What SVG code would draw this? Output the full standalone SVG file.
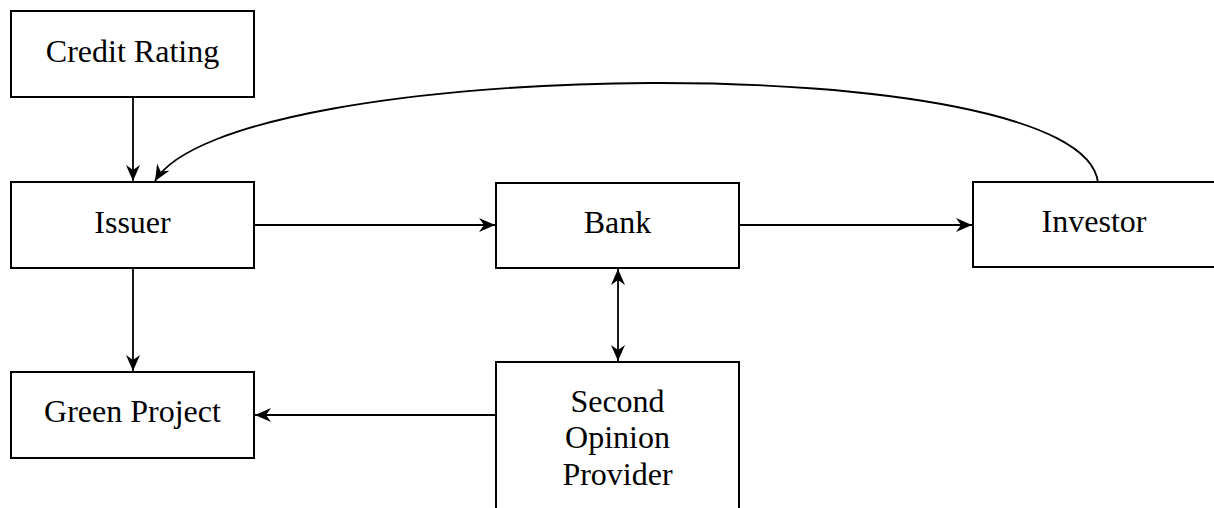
<svg xmlns="http://www.w3.org/2000/svg" width="1214" height="508" viewBox="0 0 1214 508">
<style>
.box{fill:#fff;stroke:#000;stroke-width:2}
.lbl{font-family:"Liberation Serif","Times New Roman",serif;font-size:32px;fill:#000;text-anchor:middle}
.con{fill:none;stroke:#000;stroke-width:1.8}
</style>
<defs>
<marker id="ah" markerWidth="18" markerHeight="14" refX="16" refY="7" orient="auto-start-reverse" markerUnits="userSpaceOnUse">
<path d="M0,0 L16,7 L0,14 L5,7 z" fill="#000"/>
</marker>
</defs>
<rect width="1214" height="508" fill="#fff"/>
<g id="connectors">
<line class="con" x1="133" y1="97" x2="133" y2="181" marker-end="url(#ah)"/>
<line class="con" x1="133" y1="268" x2="133" y2="371" marker-end="url(#ah)"/>
<line class="con" x1="254" y1="225" x2="495" y2="225" marker-end="url(#ah)"/>
<line class="con" x1="739" y1="225" x2="972" y2="225" marker-end="url(#ah)"/>
<line class="con" x1="618" y1="269" x2="618" y2="361" marker-start="url(#ah)" marker-end="url(#ah)"/>
<line class="con" x1="496" y1="415" x2="255" y2="415" marker-end="url(#ah)"/>
<path class="con" d="M1098,183 C1085,45 230,55 155,181" marker-end="url(#ah)"/>
</g>
<g id="credit-rating"><rect class="box" x="11" y="11" width="243" height="86"/><text class="lbl" x="132.5" y="62">Credit Rating</text></g>
<g id="issuer"><rect class="box" x="11" y="182" width="243" height="86"/><text class="lbl" x="132.5" y="233">Issuer</text></g>
<g id="bank"><rect class="box" x="496" y="183" width="243" height="85"/><text class="lbl" x="617.5" y="233">Bank</text></g>
<g id="investor"><rect class="box" x="973" y="182" width="243" height="85"/><text class="lbl" x="1094" y="232">Investor</text></g>
<g id="green-project"><rect class="box" x="11" y="372" width="243" height="86"/><text class="lbl" x="132.5" y="422">Green Project</text></g>
<g id="second-opinion"><rect class="box" x="496" y="362" width="243" height="160"/><text class="lbl" x="617.5" y="412">Second</text><text class="lbl" x="617.5" y="448">Opinion</text><text class="lbl" x="617.5" y="485">Provider</text></g>
</svg>
